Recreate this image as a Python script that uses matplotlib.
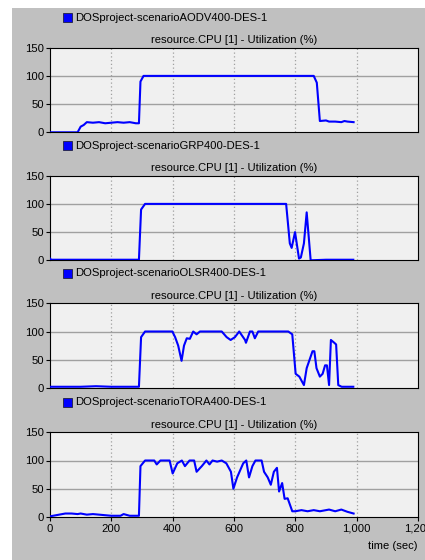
import matplotlib
matplotlib.use("Agg")
import matplotlib.pyplot as plt
from matplotlib.patches import Rectangle

plt.rcParams['font.family'] = ['Liberation Sans', 'DejaVu Sans']

# scenario names, one per panel
scenarios = ["DOSproject-scenarioAODV400-DES-1",
             "DOSproject-scenarioGRP400-DES-1",
             "DOSproject-scenarioOLSR400-DES-1",
             "DOSproject-scenarioTORA400-DES-1"]
subtitle = "resource.CPU [1] - Utilization (%)"

# AODV
aodv_t = [0, 90, 100, 110, 120, 140, 160, 180, 200, 220, 240, 260, 280, 290,
          295, 305, 860, 870, 880, 900, 910, 930, 950, 960, 970, 990]
aodv_y = [0, 0, 10, 13, 18, 17, 18, 16, 17, 18, 17, 18, 16, 16,
          90, 100, 100, 88, 20, 21, 19, 19, 18, 20, 19, 18]

# GRP
grp_t = [0, 3, 5, 50, 100, 200, 290, 297, 310, 770, 782, 788, 799, 812, 818,
         828, 837, 850, 900, 989]
grp_y = [3, 1, 1, 1, 1, 1, 1, 90, 100, 100, 30, 22, 50, 3, 5,
         30, 85, 0, 1, 1]

# OLSR
olsr_t = [0, 50, 100, 150, 200, 250, 290, 297, 310, 399, 408, 418, 429, 437,
          446, 456, 467, 478, 489, 560, 576, 589, 603, 617, 636, 639, 652,
          660, 668, 679, 777, 790, 801, 813, 828, 837, 856, 862, 869, 880,
          889, 897, 903, 910, 916, 927, 933, 940, 951, 989]
olsr_y = [2, 2, 2, 3, 2, 2, 2, 90, 100, 100, 90, 75, 48, 75,
          88, 87, 100, 95, 100, 100, 90, 85, 90, 100, 85, 80, 100,
          100, 88, 100, 100, 95, 25, 20, 5, 35, 65, 65, 35, 20,
          25, 40, 40, 5, 85, 80, 77, 5, 2, 2]

# TORA
tora_t = [0, 20, 50, 70, 90, 100, 120, 140, 160, 180, 200, 230, 240, 260,
          290, 295, 310, 340, 348, 360, 390, 400, 415, 430, 440, 455, 470,
          478, 495, 510, 520, 530, 545, 560, 575, 590, 598, 610, 630, 640,
          649, 660, 670, 690, 698, 710, 720, 730, 740, 747, 757, 765, 775,
          790, 800, 820, 840, 860, 880, 910, 930, 950, 970, 990]
tora_y = [1, 3, 6, 6, 5, 6, 4, 5, 4, 3, 2, 2, 5, 2,
          2, 90, 100, 100, 93, 100, 100, 77, 95, 100, 90, 100, 100,
          80, 90, 100, 93, 100, 98, 100, 95, 80, 50, 70, 95, 100,
          70, 90, 100, 100, 80, 70, 57, 80, 87, 45, 60, 32, 33,
          10, 10, 12, 10, 12, 10, 13, 10, 13, 9, 6]

series = [(aodv_t, aodv_y), (grp_t, grp_y), (olsr_t, olsr_y), (tora_t, tora_y)]

xticks = [0, 200, 400, 600, 800, 1000, 1200]
xtick_labels = ["0", "200", "400", "600", "800", "1,000", "1,200"]
yticks = [0, 50, 100, 150]

W, H = 425, 560
fig = plt.figure(figsize=(W / 100, H / 100), dpi=100)
fig.patch.set_facecolor("white")
fig.patches.append(Rectangle((12 / W, 0), 1 - 12 / W, 1 - 8 / H,
                             transform=fig.transFigure, facecolor="#c0c0c0",
                             edgecolor="none", zorder=-10))

tops = [47.7, 175.7, 303.3, 432.3]
ax_h = 84.6
left_px, right_px = 50, 418
fs = 8.1

for i, ((t, y), name) in enumerate(zip(series, scenarios)):
    top = tops[i]
    ax = fig.add_axes([left_px / W, 1 - (top + ax_h) / H,
                       (right_px - left_px) / W, ax_h / H])
    ax.set_facecolor("#f0f0f0")
    ax.plot(t, y, color="#0000ff", lw=1.5, zorder=3)
    ax.set_xlim(0, 1200)
    ax.set_ylim(0, 150)
    ax.set_yticks(yticks)
    ax.set_xticks(xticks)
    for yy in [50, 100]:
        ax.axhline(yy, color="#a0a0a0", lw=1.0, zorder=1)
    for xx in [200, 400, 600, 800, 1000]:
        ax.axvline(xx, color="#a0a0a0", lw=0.9, ls=(0, (1, 2)), zorder=1)
    for s in ax.spines.values():
        s.set_color("black")
        s.set_linewidth(0.8)
    ax.tick_params(axis="y", direction="out", length=3, width=0.8,
                   labelsize=fs, pad=1.5)
    if i == 3:
        ax.set_xticklabels(xtick_labels)
        ax.tick_params(axis="x", direction="out", length=3, width=0.8,
                       labelsize=fs, pad=2)
        ax.set_xlabel("time (sec)", fontsize=fs, loc="right", labelpad=5)
    else:
        ax.tick_params(axis="x", length=0, labelbottom=False)

    # legend square and label above each panel
    ly = top - 30
    fig.patches.append(Rectangle((63 / W, 1 - (ly + 4.5) / H), 9 / W, 9 / H,
                                 transform=fig.transFigure,
                                 facecolor="#0000ff", edgecolor="#202040",
                                 lw=0.6, zorder=2))
    fig.text(75 / W, 1 - ly / H, name, fontsize=fs, va="center", ha="left")
    fig.text((left_px + right_px) / 2 / W, 1 - (top - 7.5) / H, subtitle,
             fontsize=fs, va="center", ha="center")

fig.savefig("out.png", dpi=100)
